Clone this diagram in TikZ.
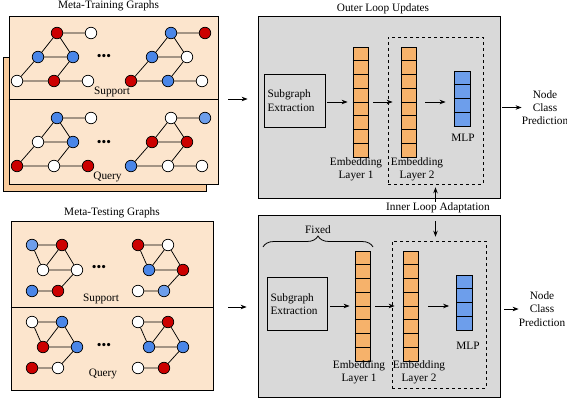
\documentclass[tikz,border=0pt]{standalone}
\usepackage{fontspec}
\setmainfont{Liberation Serif}
\usetikzlibrary{arrows.meta, positioning, calc, decorations.pathreplacing}
\definecolor{peach}{HTML}{FCE5CD}
\definecolor{tan}{HTML}{F9CB9C}
\definecolor{cellorange}{HTML}{F6B26B}
\definecolor{cellblue}{HTML}{6D9EEB}
\definecolor{nodered}{HTML}{CC0000}
\definecolor{nodeblue}{HTML}{4A86E8}
\definecolor{panelgrey}{HTML}{D9D9D9}

\begin{document}
\begin{tikzpicture}[x=1pt, y=-1pt,
						font=\fontsize{11.3}{13.3}\selectfont,
						block/.style={draw, rectangle, line width=0.8pt, inner sep=0pt},
						panel/.style={block, fill=panelgrey, minimum width=242pt, minimum height=182pt},
						graphbox/.style={block, fill=peach},
						extract/.style={block, align=left, inner sep=3pt, text width=55pt, minimum height=53pt},
						emb/.style={block, fill=cellorange, minimum width=15pt, minimum height=110pt},
						mlp/.style={block, fill=cellblue, minimum width=16pt, minimum height=55pt},
						adapt/.style={draw, dashed, line width=0.6pt, minimum width=95pt, minimum height=147pt},
						gnode/.style={draw, circle, line width=0.7pt, minimum size=11.5pt, inner sep=0pt},
						gline/.style={line width=0.75pt},
						lbl/.style={inner sep=0pt, align=center},
						every edge/.append style={draw, -{Stealth[length=6pt, width=4.5pt]}, line width=0.8pt},]
		\useasboundingbox (0,0) rectangle (567,398);

		% graph sets
		\node (trainback) [graphbox, fill=tan, minimum width=203pt, minimum height=134pt] at (104.5,124) {};
		\node (train) [graphbox, minimum width=209pt, minimum height=168pt] at (113.5,100) {};
		\node (test) [graphbox, minimum width=202pt, minimum height=169pt] at (112,305.5) {};
		\draw[line width=0.8pt] (train.west |- 0,99) -- (train.east |- 0,99);
		\draw[line width=0.8pt] (test.west |- 0,307) -- (test.east |- 0,307);

		\node (traintitle) [lbl] at (108.5,6) {Meta-Training Graphs};
		\node (testtitle) [lbl] at (112,213) {Meta-Testing Graphs};
		\node (supporta) [lbl] at (112,92) {Support};
		\node (querya) [lbl] at (107.5,177) {Query};
		\node (supportb) [lbl] at (101,299) {Support};
		\node (queryb) [lbl] at (103,374) {Query};

		\foreach \g/\x/\y/\ca/\cb/\cc/\cd/\ce/\cf/\cg in {
				tsl/38/57/nodered/white/nodeblue/nodeblue/white/nodered/white,
				tsr/152/57/nodeblue/nodered/nodeblue/white/nodered/nodeblue/white,
				tql/38/142/nodeblue/white/white/nodeblue/nodered/white/nodered,
				tqr/152/142/white/cellblue/nodered/nodered/nodeblue/white/white} {
			\begin{scope}[shift={(\x,\y)}]
				\node (\g-a) [gnode, fill=\ca] at (19,-24) {};
				\node (\g-b) [gnode, fill=\cb] at (53,-24) {};
				\node (\g-c) [gnode, fill=\cc] at (0,0) {};
				\node (\g-d) [gnode, fill=\cd] at (35,0) {};
				\node (\g-e) [gnode, fill=\ce] at (-21,24) {};
				\node (\g-f) [gnode, fill=\cf] at (16,24) {};
				\node (\g-g) [gnode, fill=\cg] at (50,24) {};
			\end{scope}
			\draw[gline] (\g-a) -- (\g-b) (\g-a) -- (\g-c) (\g-a) -- (\g-d) (\g-c) -- (\g-d)
				(\g-c) -- (\g-e) (\g-d) -- (\g-f) (\g-e) -- (\g-f) (\g-f) -- (\g-g);
		}

		\foreach \g/\x/\y/\ca/\cb/\cc/\cd/\ce/\cf in {
				esl/32/245/cellblue/nodered/white/white/nodeblue/nodered,
				esr/138/245/nodered/white/nodeblue/nodered/white/cellblue,
				eql/32/322/white/nodeblue/nodered/nodeblue/nodered/white,
				eqr/138/322/white/nodered/nodeblue/nodeblue/white/nodered} {
			\begin{scope}[shift={(\x,\y)}]
				\node (\g-a) [gnode, fill=\ca] at (0,0) {};
				\node (\g-b) [gnode, fill=\cb] at (30,0) {};
				\node (\g-c) [gnode, fill=\cc] at (11,25) {};
				\node (\g-d) [gnode, fill=\cd] at (45,25) {};
				\node (\g-e) [gnode, fill=\ce] at (0,46) {};
				\node (\g-f) [gnode, fill=\cf] at (26,46) {};
			\end{scope}
			\draw[gline] (\g-a) -- (\g-b) (\g-a) -- (\g-c) (\g-b) -- (\g-c) (\g-b) -- (\g-d)
				(\g-c) -- (\g-d) (\g-d) -- (\g-f) (\g-e) -- (\g-f);
		}

		\foreach \d/\x/\y in {dotsa/104/57, dotsb/104/143, dotsc/99/268, dotsd/104/346}
			\node (\d) [lbl, font=\fontsize{13.5}{14}\selectfont] at (\x,\y) {\textbullet\textbullet\textbullet};

		% model panels
		\node (panela) [panel] at (379,107) {};
		\node (panelb) [panel] at (379,306) {};
		\node (outertitle) [lbl] at (383,9) {Outer Loop Updates};
		\node (inner) [lbl] at (438,208) {Inner Loop Adaptation};

		\node (adapta) [adapt] at (435.5,110.5) {};
		\node (adaptb) [adapt, minimum width=94pt] at (439,314.5) {};

		\node (extracta) [extract] at (295,100.5) {Subgraph\\Extraction};
		\node (extractb) [extract, text width=54pt] at (297.5,304) {Subgraph\\Extraction};

		\node (emb1a) [emb] at (360.5,102) {};
		\node (emb2a) [emb] at (408.5,102) {};
		\node (mlpa) [mlp] at (462,98.5) {};
		\node (emb1b) [emb] at (362.5,306) {};
		\node (emb2b) [emb] at (410.5,306) {};
		\node (mlpb) [mlp] at (464.5,302.5) {};
		\foreach \c/\k in {emb1a/8, emb2a/8, mlpa/4, emb1b/8, emb2b/8, mlpb/4}
			\foreach \i in {1,...,\k}
				\draw[line width=0.8pt] ($(\c.north west)!\i/\k!(\c.south west)$) -- ($(\c.north east)!\i/\k!(\c.south east)$);

		\node (lab1a) [lbl] at (356,169.5) {Embedding\\Layer 1};
		\node (lab2a) [lbl] at (417,169.5) {Embedding\\Layer 2};
		\node (mlplaba) [lbl] at (463,138) {MLP};
		\node (lab1b) [lbl] at (359,372) {Embedding\\Layer 1};
		\node (lab2b) [lbl] at (419,372) {Embedding\\Layer 2};
		\node (mlplabb) [lbl] at (468,346) {MLP};

		\node (preda) [lbl] at (545,107.5) {Node\\Class\\Prediction};
		\node (predb) [lbl] at (542,309) {Node\\Class\\Prediction};

		\coordinate (fixl) at (263,247);
		\coordinate (fixr) at (373,247);
		\draw[decorate, decoration={brace, amplitude=11pt}, line width=0.8pt] (fixl) -- (fixr)
			node (fixed) [midway, above=13pt, inner sep=0pt] {Fixed};

		\path 	(train.east |- 0,99)		edge[shorten <=10pt, shorten >=10pt]	(panela.west |- 0,99)
				(extracta.east |- emb1a)	edge[shorten <=1pt, shorten >=5pt]		(emb1a.west)
				(emb1a.east)				edge[shorten <=5pt, shorten >=8pt]		(emb2a.west)
				(emb2a.east)				edge[shorten <=9pt, shorten >=8pt]		(mlpa.west |- emb2a)
				(panela.east |- preda)		edge[shorten <=2pt]						(preda.west)
				(test.east |- 0,307)		edge[shorten <=15pt, shorten >=11pt]	(panelb.west |- 0,307)
				(extractb.east |- emb1b)	edge[shorten <=2pt, shorten >=5pt]		(emb1b.west)
				(emb1b.east)				edge[shorten <=5pt, shorten >=8pt]		(emb2b.west)
				(emb2b.east)				edge[shorten <=10pt, shorten >=7pt]		(mlpb.west |- emb2b)
				(panelb.east |- predb)		edge[shorten <=4pt]						(predb.west)
				(inner.north -| adapta.south)	edge[shorten <=1pt, shorten >=3pt]	(adapta.south)
				(inner.south -| adapta.south)	edge[shorten <=8pt, shorten >=4pt]	(adaptb.north -| adapta.south);
	\end{tikzpicture}
\end{document}
